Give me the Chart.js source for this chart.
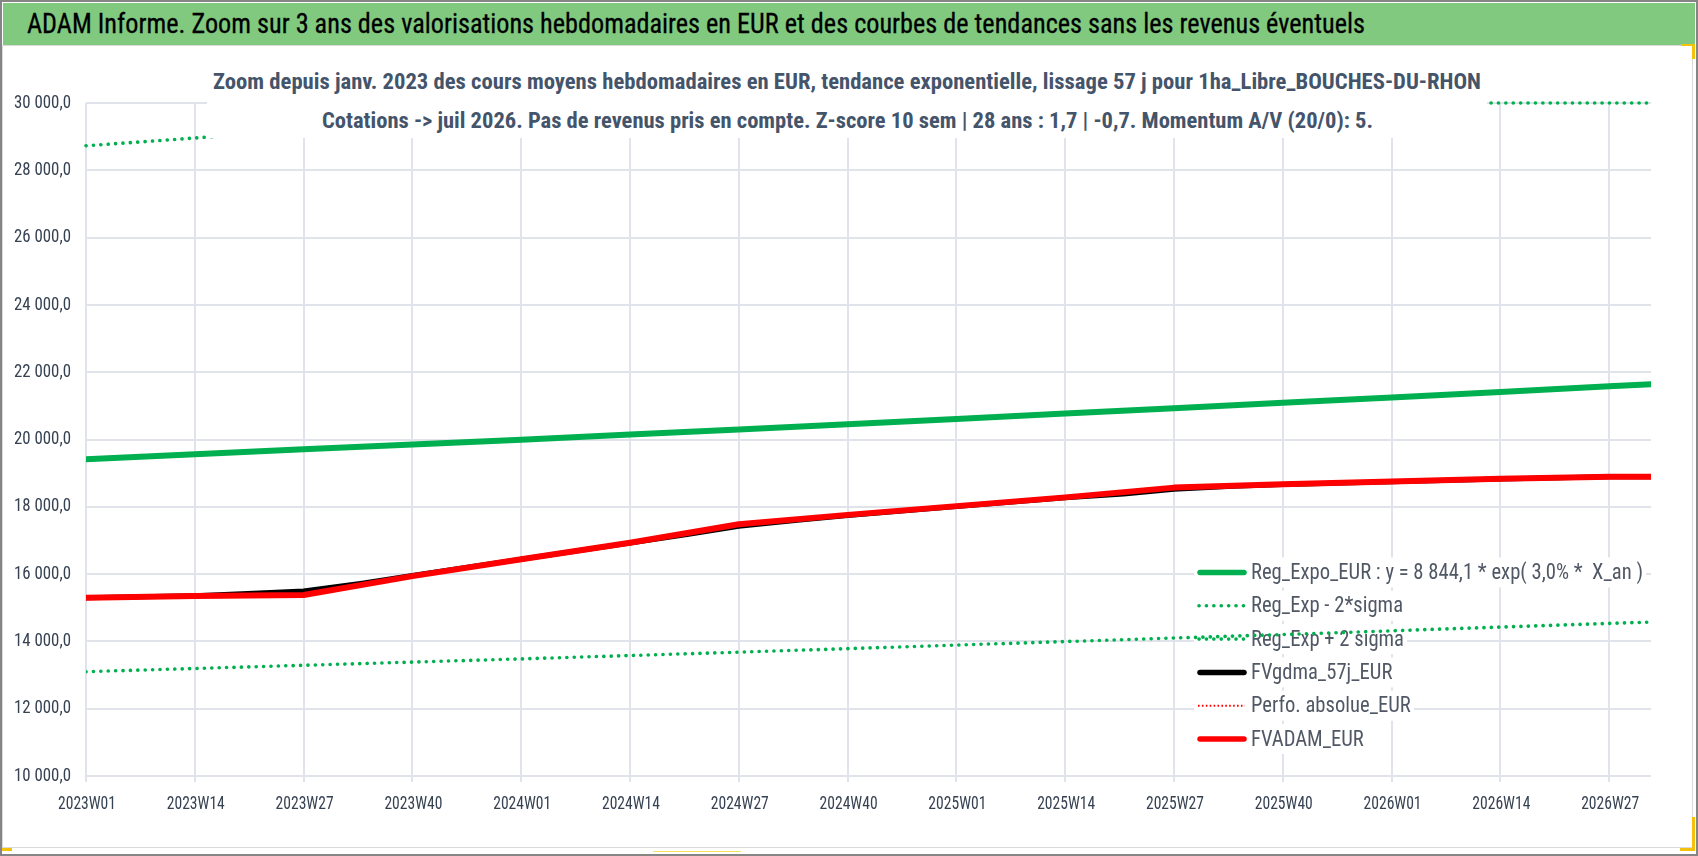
<!DOCTYPE html>
<html>
<head>
<meta charset="utf-8">
<script src="https://cdn.jsdelivr.net/npm/chart.js@4.4.1/dist/chart.umd.min.js"></script>
<style>
  html, body { margin: 0; padding: 0; background: #fff; }
  #frame { position: relative; width: 1698px; height: 856px; overflow: hidden; background: #fff; }
  #outer { position: absolute; left: 0; top: 0; width: 1698px; height: 856px; box-sizing: border-box; border: 2px solid #858585; }
  #inner { position: absolute; left: 2px; top: 45px; width: 1691px; height: 803px; box-sizing: border-box; border: 1px solid #DADADA; }
  #c { position: absolute; left: 0; top: 0; }
  #titlebar { position: absolute; left: 3px; top: 3px; width: 1692px; height: 42px; background: #80C97F; overflow: hidden; }
  #titletext { position: absolute; left: 21px; top: 0; width: max-content; line-height: 42px; font-size: 28px; color: #000; white-space: nowrap; transform-origin: 0 50%; -webkit-text-stroke: 0.3px #000; }
  #subbox { position: absolute; left: 207px; top: 52px; width: 1280px; height: 86px; background: #fff; }
  .sub { position: absolute; width: max-content; white-space: nowrap; font-weight: bold; color: #44546A; font-size: 22px; line-height: 30px; transform-origin: 0 50%; }
  .y { position: absolute; background: #F4C20D; }
</style>
</head>
<body>
<div id="frame">
  <div id="outer"></div>
  <div id="inner"></div>
  <canvas id="c" width="1698" height="856"></canvas>
  <div id="titlebar"><span id="titletext">ADAM Informe. Zoom sur 3 ans des valorisations hebdomadaires en EUR et des courbes de tendances sans les revenus éventuels</span></div>
  <div id="subbox"></div>
  <span class="sub" id="sub1">Zoom depuis janv. 2023 des cours moyens hebdomadaires en EUR, tendance exponentielle, lissage 57 j pour 1ha_Libre_BOUCHES-DU-RHON</span>
  <span class="sub" id="sub2">Cotations -&gt; juil 2026. Pas de revenus pris en compte. Z-score 10 sem | 28 ans : 1,7 | -0,7. Momentum A/V (20/0): 5.</span>
  <div class="y" style="left:1692px;top:44px;width:3px;height:15px;"></div>
  <div class="y" style="left:1681px;top:44px;width:14px;height:2px;"></div>
  <div class="y" style="left:2px;top:848px;width:10px;height:3px;"></div>
  <div class="y" style="left:653px;top:851px;width:88px;height:1px;background:#F7E35A;"></div>
  <div class="y" style="left:1692px;top:817px;width:3px;height:34px;"></div>
  <div class="y" style="left:1680px;top:848px;width:15px;height:3px;"></div>
</div>
<script>
// ---------------- DATA ----------------
const tickWeeks  = [0, 13, 26, 39, 52, 65, 78, 91, 104, 117, 130, 143, 156, 169, 182];
const tickLabels = ['2023W01','2023W14','2023W27','2023W40','2024W01','2024W14','2024W27','2024W40',
                    '2025W01','2025W14','2025W27','2025W40','2026W01','2026W14','2026W27'];
const lastWeek = 187;
const yTicks = [10000, 12000, 14000, 16000, 18000, 20000, 22000, 24000, 26000, 28000, 30000];

const trendWeeks     = [0, 13, 26, 39, 52, 65, 78, 91, 104, 117, 130, 143, 156, 169, 182, 187];
const regExpoEur     = [19410, 19560, 19710, 19855, 19995, 20145, 20295, 20450, 20610, 20770, 20930, 21090, 21250, 21415, 21580, 21640];
const regMinus2Sigma = [13100, 13195, 13290, 13385, 13480, 13580, 13680, 13785, 13890, 13995, 14100, 14205, 14315, 14425, 14535, 14575];

const plusWeeks      = [0, 4, 8, 13, 18, 19, 167, 172, 177, 182, 187];
const regPlus2Sigma  = [28730, 28800, 28870, 28960, 29050, null, 30000, 30000, 30000, 30000, 30000];

const adamWeeks      = [0, 13, 26, 39, 52, 65, 78, 91, 104, 117, 130, 143, 156, 169, 182, 187];
const fvAdamEur      = [15300, 15350, 15380, 15940, 16440, 16930, 17480, 17760, 18020, 18280, 18570, 18670, 18750, 18830, 18890, 18895];

const gdmaWeeks      = [0, 13, 20, 26, 33, 39, 52, 65, 72, 78, 85, 91, 104, 117, 124, 130, 137, 143, 156, 169, 182, 187];
const fvGdma57jEur   = [15300, 15360, 15430, 15500, 15730, 15960, 16440, 16925, 17180, 17420, 17600, 17740, 18010, 18270, 18380, 18520, 18610, 18660, 18745, 18825, 18890, 18895];

const perfoWeeks      = [];
const perfoAbsolueEur = [];

const seriesNames = ['Reg_Expo_EUR : y = 8 844,1 * exp( 3,0% *  X_an )', 'Reg_Exp - 2*sigma', 'Reg_Exp + 2 sigma',
                     'FVgdma_57j_EUR', 'Perfo. absolue_EUR', 'FVADAM_EUR'];

// ---------------- STYLE / LAYOUT ----------------
const FAM = "'Roboto Condensed','Liberation Sans',Arial,sans-serif";
const GREEN = '#00B050', RED = '#FF0000', BLACK = '#000000';
const GRID = '#E0E3EA';
const TICK_COLOR = '#364152';
const LEGEND_COLOR = '#515865';

const measureCtx = document.createElement('canvas').getContext('2d');
function scaleFor(text, size, target) {
  measureCtx.font = size + 'px ' + FAM;
  return target / measureCtx.measureText(text).width;
}
const Y_SIZE = 18.5, X_SIZE = 18.5, LEG_SIZE = 22;
const ySX = scaleFor('30 000,0', Y_SIZE, 57);
const xSX = scaleFor(tickLabels[0], X_SIZE, 58);
const legSX = scaleFor(seriesNames[0], LEG_SIZE, 392);

function drawCond(ctx, text, x, y, size, sx, align, color) {
  ctx.save();
  ctx.font = size + 'px ' + FAM;
  const w = ctx.measureText(text).width * sx;
  const left = align === 'right' ? x - w : (align === 'center' ? x - w / 2 : x);
  ctx.translate(left, y);
  ctx.scale(sx, 1);
  ctx.textAlign = 'left';
  ctx.textBaseline = 'middle';
  ctx.fillStyle = color;
  ctx.fillText(text, 0, 0);
  ctx.restore();
  return w;
}

// HTML titles: fit width (two passes)
function fitSpan(id, left, width) {
  const el = document.getElementById(id);
  el.style.fontFamily = FAM;
  el.style.left = left + 'px';
  let s = width / el.getBoundingClientRect().width;
  el.style.transform = 'scaleX(' + s + ')';
  s *= width / el.getBoundingClientRect().width;
  el.style.transform = 'scaleX(' + s + ')';
}
document.getElementById('sub1').style.top = '67px';
document.getElementById('sub2').style.top = '106px';
fitSpan('titletext', 24, 1338);
fitSpan('sub1', 213, 1268);
fitSpan('sub2', 322, 1051);

function pts(xs, ys) { return xs.map((x, i) => ({ x: x, y: ys[i] })); }
function fmtFr(v) {
  return String(Math.round(v)).replace(/\B(?=(\d{3})+(?!\d))/g, ' ') + ',0';
}
const dotted = (color, w, gap) => ({ borderColor: color, borderWidth: w, borderDash: [0.1, gap], borderCapStyle: 'round' });

const datasets = [
  { label: seriesNames[0], data: pts(trendWeeks, regExpoEur), borderColor: GREEN, borderWidth: 6, order: 3, legendStyle: 'solid' },
  Object.assign({ label: seriesNames[1], data: pts(trendWeeks, regMinus2Sigma), order: 4, legendStyle: 'dots' }, dotted(GREEN, 3.6, 7.3)),
  Object.assign({ label: seriesNames[2], data: pts(plusWeeks, regPlus2Sigma), order: 5, legendStyle: 'dots', clip: false }, dotted(GREEN, 3.6, 7.3)),
  { label: seriesNames[3], data: pts(gdmaWeeks, fvGdma57jEur), borderColor: BLACK, borderWidth: 5, order: 1, legendStyle: 'solid' },
  Object.assign({ label: seriesNames[4], data: pts(perfoWeeks, perfoAbsolueEur), order: 2, legendStyle: 'small' }, dotted(RED, 2, 3.6)),
  { label: seriesNames[5], data: pts(adamWeeks, fvAdamEur), borderColor: RED, borderWidth: 6, order: 0, legendStyle: 'solid' }
];
datasets.forEach(d => {
  d.pointRadius = 0; d.tension = 0; d.fill = false; d.spanGaps = false; d.borderJoinStyle = 'round';
  if (!d.borderCapStyle) d.borderCapStyle = 'round';
});

const insideLegend = {
  id: 'insideLegend',
  beforeDatasetsDraw(chart) {
    const ctx = chart.ctx, a = chart.chartArea;
    const x0 = a.right - 454, y0 = a.top + 469.5, step = 33.3;
    ctx.save();
    ctx.font = LEG_SIZE + 'px ' + FAM;
    chart.data.datasets.forEach((ds, i) => {
      const yc = y0 + i * step;
      const tw = ctx.measureText(ds.label).width * legSX;
      ctx.fillStyle = '#ffffff';
      ctx.fillRect(x0 - 3, yc - 15, 54 + tw + 6, 30);
      ctx.save();
      ctx.strokeStyle = ds.borderColor;
      ctx.lineCap = 'round';
      ctx.beginPath();
      if (ds.legendStyle === 'solid') {
        ctx.lineWidth = 5.5; ctx.setLineDash([]);
        ctx.moveTo(x0 + 3, yc); ctx.lineTo(x0 + 47, yc);
      } else if (ds.legendStyle === 'dots') {
        ctx.lineWidth = 3.6; ctx.setLineDash([0.1, 7.3]);
        ctx.moveTo(x0 + 2, yc); ctx.lineTo(x0 + 49, yc);
      } else {
        ctx.lineWidth = 2; ctx.lineCap = 'butt'; ctx.setLineDash([1.6, 2.3]);
        ctx.moveTo(x0 + 1, yc); ctx.lineTo(x0 + 48, yc);
      }
      ctx.stroke();
      ctx.restore();
      drawCond(ctx, ds.label, x0 + 54, yc + 1, LEG_SIZE, legSX, 'left', LEGEND_COLOR);
    });
    ctx.restore();
  }
};

// tick labels drawn from the library's scales, horizontally condensed
const condensedTicks = {
  id: 'condensedTicks',
  afterDraw(chart) {
    const ctx = chart.ctx, a = chart.chartArea;
    const xs = chart.scales.x, ys = chart.scales.y;
    xs.ticks.forEach(t => {
      const k = tickWeeks.indexOf(t.value);
      if (k >= 0) drawCond(ctx, tickLabels[k], xs.getPixelForValue(t.value) + 1, a.bottom + 28, X_SIZE, xSX, 'center', TICK_COLOR);
    });
    ys.ticks.forEach(t => {
      drawCond(ctx, fmtFr(t.value), a.left - 15, ys.getPixelForValue(t.value), Y_SIZE, ySX, 'right', TICK_COLOR);
    });
  }
};

new Chart(document.getElementById('c'), {
  type: 'line',
  data: { datasets: datasets },
  plugins: [insideLegend, condensedTicks],
  options: {
    responsive: false,
    animation: false,
    events: [],
    layout: { padding: { left: 0, top: 103, right: 47, bottom: 30 } },
    plugins: { legend: { display: false }, title: { display: false }, tooltip: { enabled: false } },
    scales: {
      x: {
        type: 'linear', min: 0, max: lastWeek,
        afterBuildTicks: (s) => { s.ticks = tickWeeks.map(v => ({ value: v })); },
        afterFit: (s) => { s.height = 50; },
        grid: { color: GRID, lineWidth: 2, drawTicks: true, tickLength: 6, tickColor: GRID },
        border: { display: false },
        ticks: { display: false, autoSkip: false, maxRotation: 0 }
      },
      y: {
        type: 'linear', min: 10000, max: 30000,
        afterBuildTicks: (s) => { s.ticks = yTicks.map(v => ({ value: v })); },
        afterFit: (s) => { s.width = 86; },
        grid: { color: GRID, lineWidth: 2, drawTicks: false },
        border: { display: false },
        ticks: { display: false }
      }
    }
  }
});
</script>
</body>
</html>
